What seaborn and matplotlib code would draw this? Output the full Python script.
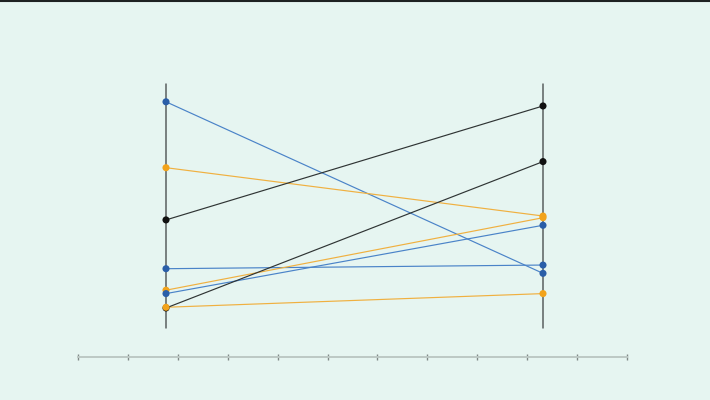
import matplotlib
matplotlib.use("Agg")
import matplotlib.pyplot as plt
from matplotlib.lines import Line2D
import seaborn as sns
import pandas as pd
import numpy as np

# ---- data ----
series_ids = ["a", "b", "c", "d", "e", "f", "g", "h"]
groups = ["blue", "orange", "black", "blue", "orange", "blue", "black", "orange"]
start_values = [92.7, 65.7, 44.3, 24.3, 15.5, 14.1, 8.2, 8.5]
end_values = [22.4, 45.9, 91.0, 25.8, 45.2, 42.1, 68.2, 14.1]
sides = [0, 1]
bottom_ticks = list(range(12))

palette_points = {"blue": "#2a5ea8", "orange": "#f2a31b", "black": "#111111"}
palette_lines = {"blue": "#4a83c8", "orange": "#f0b040", "black": "#2f3434"}

rows = []
for sid, g, s, e in zip(series_ids, groups, start_values, end_values):
    rows.append({"id": sid, "group": g, "side": sides[0], "value": s})
    rows.append({"id": sid, "group": g, "side": sides[1], "value": e})
df = pd.DataFrame(rows)

sns.set_theme(style="white")
bg = "#e6f5f1"
fig = plt.figure(figsize=(7.1, 4.0), dpi=100, facecolor=bg)

ax = fig.add_axes([166 / 710, 72 / 400, 377 / 710, 244 / 400])
ax.set_facecolor("none")
sns.lineplot(data=df, x="side", y="value", hue="group", units="id",
             estimator=None, palette=palette_lines, lw=0.85, ax=ax,
             legend=False, sort=False)
for ln in ax.lines:
    ln.set_clip_on(False)
for xv in sides:
    ax.axvline(xv, color="#5a6060", lw=1.1, zorder=1, clip_on=False)
sns.scatterplot(data=df, x="side", y="value", hue="group",
                palette=palette_points, s=26, edgecolor="none", ax=ax,
                legend=False, zorder=5, clip_on=False)
ax.set_xlim(0, 1)
ax.set_ylim(0, 100)
ax.set_axis_off()

# bottom axis
bax = fig.add_axes([78 / 710, 43 / 400, 549 / 710, 0.0001])
bax.set_facecolor("none")
bax.set_xlim(bottom_ticks[0], bottom_ticks[-1])
bax.set_xticks(bottom_ticks)
bax.set_xticklabels([])
bax.set_yticks([])
for sp in ["top", "left", "right"]:
    bax.spines[sp].set_visible(False)
bax.spines["bottom"].set_color("#bcc8c4")
bax.spines["bottom"].set_linewidth(1.4)
bax.tick_params(axis="x", direction="inout", length=5, width=1,
                color="#808987", bottom=True)

fig.add_artist(Line2D([0, 1], [0.998, 0.998], transform=fig.transFigure,
                      color="#1e2222", lw=1.5))

fig.savefig("out.png", dpi=100, facecolor=bg)
